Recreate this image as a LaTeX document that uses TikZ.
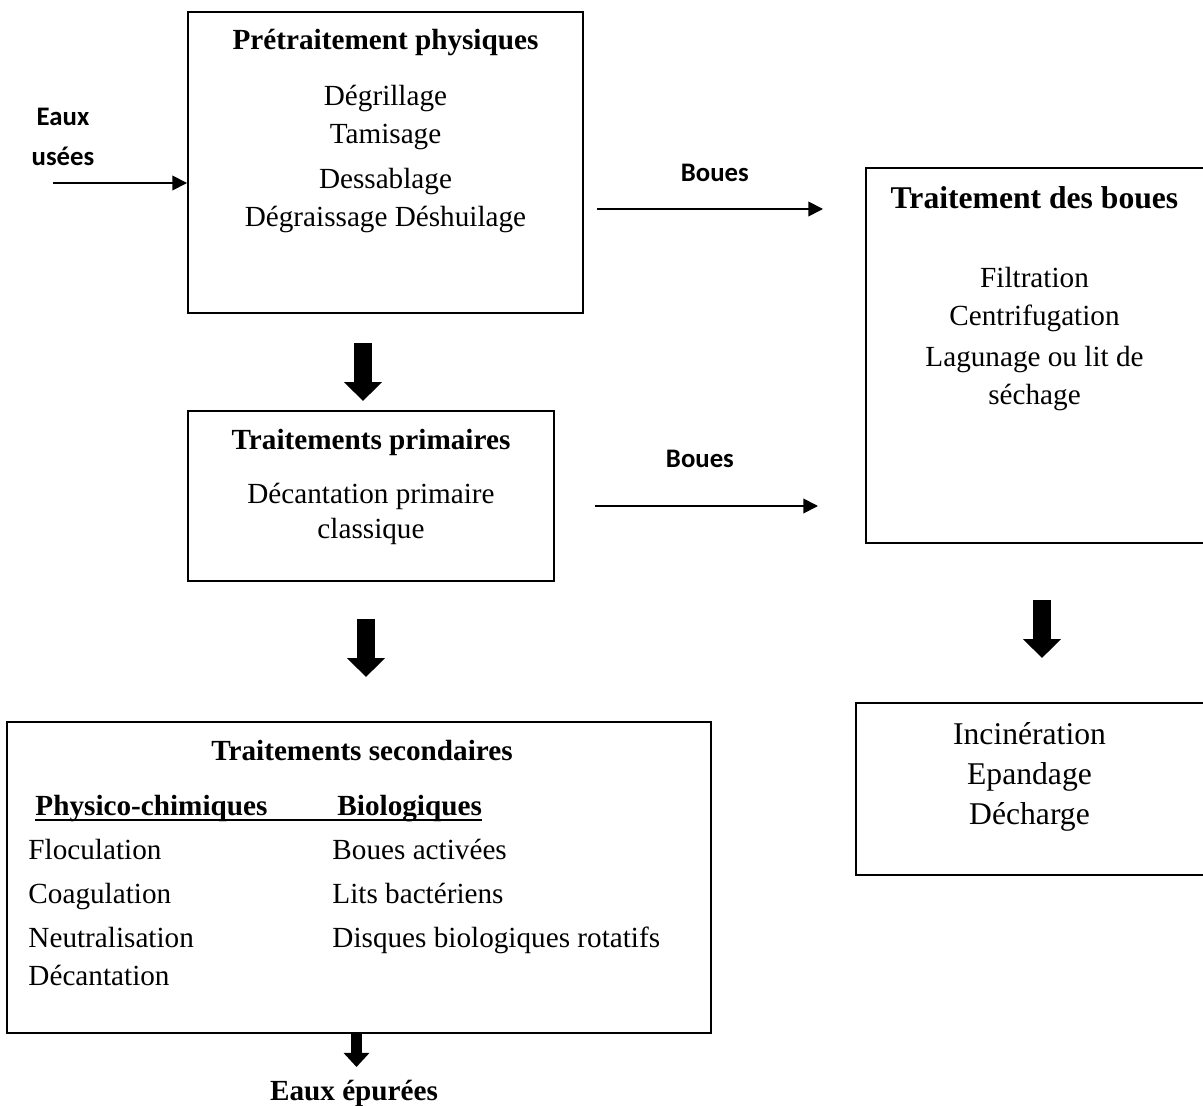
\documentclass[tikz,border=0pt]{standalone}
\usepackage{fontspec}
\setmainfont{Liberation Serif}
\newfontfamily\calibri{Carlito}
\usetikzlibrary{arrows.meta,positioning,fit,calc}

\begin{document}
\begin{tikzpicture}[
    x=0.411pt, y=-0.411pt,
    font=\fontsize{12}{15.6}\selectfont,
    >={Triangle[length=6pt, width=6pt]},
    box/.style={draw, line width=0.8pt, inner sep=0pt},
    title/.style={font=\fontsize{12}{14}\selectfont\bfseries, inner sep=0pt, anchor=base},
    items/.style={align=center, inner sep=0pt, anchor=north},
    flow/.style={->, line width=0.7pt},
    fat/.style={line width=7pt, -{Triangle[length=7.8pt, width=15.2pt]}},
    slim/.style={line width=4.5pt, -{Triangle[length=5.8pt, width=10.3pt]}},
    lbl/.style={font=\calibri\fontsize{11}{16.4}\selectfont\bfseries, inner sep=0pt, align=center},
]
\useasboundingbox (0,0) rectangle (1203,1106);

% --- Treatment boxes ---
\node[box, fit={(188,12) (583,313)}]   (pretr)  {};
\node[box, fit={(188,411) (554,581)}]  (prim)   {};
\node[box, fit={(7,722) (711,1033)}]   (second) {};
\node[box, fit={(866,168) (1210,543)}] (boues)  {};
\node[box, fit={(856,703) (1210,875)}] (final)  {};

% --- Pretreatment ---
\node[title] (pretrT) at (385.5,50) {Prétraitement physiques};
\node[items] (pretrL) at (385.5,85) {Dégrillage\\Tamisage\\[2.9pt]Dessablage\\Dégraissage Déshuilage};

% --- Primary ---
\node[title] (primT) at (371,450) {Traitements primaires};
\node[items, font=\fontsize{12}{14.4}\selectfont] (primL) at (371,483) {Décantation primaire\\classique};

% --- Sludge side ---
\node[title, font=\fontsize{13}{15}\selectfont\bfseries] (bouesT) at (1034.5,209) {Traitement des boues};
\node[items] (bouesL) at (1034.5,267) {Filtration\\Centrifugation\\[1pt]Lagunage ou lit de\\séchage};
\node[items, font=\fontsize{13}{16.4}\selectfont] (finalL) at (1029.5,722) {Incinération\\Epandage\\Décharge};

% --- Secondary, two columns ---
\node[title] (secT) at (362,760) {Traitements secondaires};
\node[title, anchor=base west] (physT) at (35,815) {Physico-chimiques};
\node[title, anchor=base west] (bioT)  at (337,815) {Biologiques};
\draw[line width=1.1pt] ($(physT.base west)+(0,5)$) -- ($(bioT.base east)+(0,5)$);
\node[items, align=left, anchor=north west, font=\fontsize{12}{18}\selectfont] (physL) at (28,839)
     {Floculation\\Coagulation\\Neutralisation\\[-2.5pt]Décantation};
\node[items, align=left, anchor=north west, font=\fontsize{12}{18}\selectfont] (bioL) at (332,839)
     {Boues activées\\Lits bactériens\\Disques biologiques rotatifs};
\node[title] (outT) at (354,1100) {Eaux épurées};

% --- Inflow ---
\node[lbl, anchor=north] (eaux) at (63,108) {Eaux\\usées};
\coordinate (inS) at (53,183);
\draw[flow] (inS) -- (inS -| pretr.west);

% --- Sludge lines ---
\coordinate (b1s) at (597,209);
\coordinate (b1e) at (823,209);
\draw[flow] (b1s) -- node[lbl, above=11pt, xshift=2pt] {Boues} (b1e);
\coordinate (b2s) at (595,506);
\coordinate (b2e) at (818,506);
\draw[flow] (b2s) -- node[lbl, above=15.2pt, xshift=-2.7pt] {Boues} (b2e);

% --- Block arrows between stages ---
\coordinate (f1s) at (363,343);  \coordinate (f1e) at (363,401);
\coordinate (f2s) at (366,619);  \coordinate (f2e) at (366,677);
\coordinate (f3s) at (1042,600); \coordinate (f3e) at (1042,658);
\draw[fat] (f1s) -- (f1e);
\draw[fat] (f2s) -- (f2e);
\draw[fat] (f3s) -- (f3e);
\coordinate (outE) at (356.5,1067);
\draw[slim] (outE |- second.south) -- (outE);

\end{tikzpicture}
\end{document}
